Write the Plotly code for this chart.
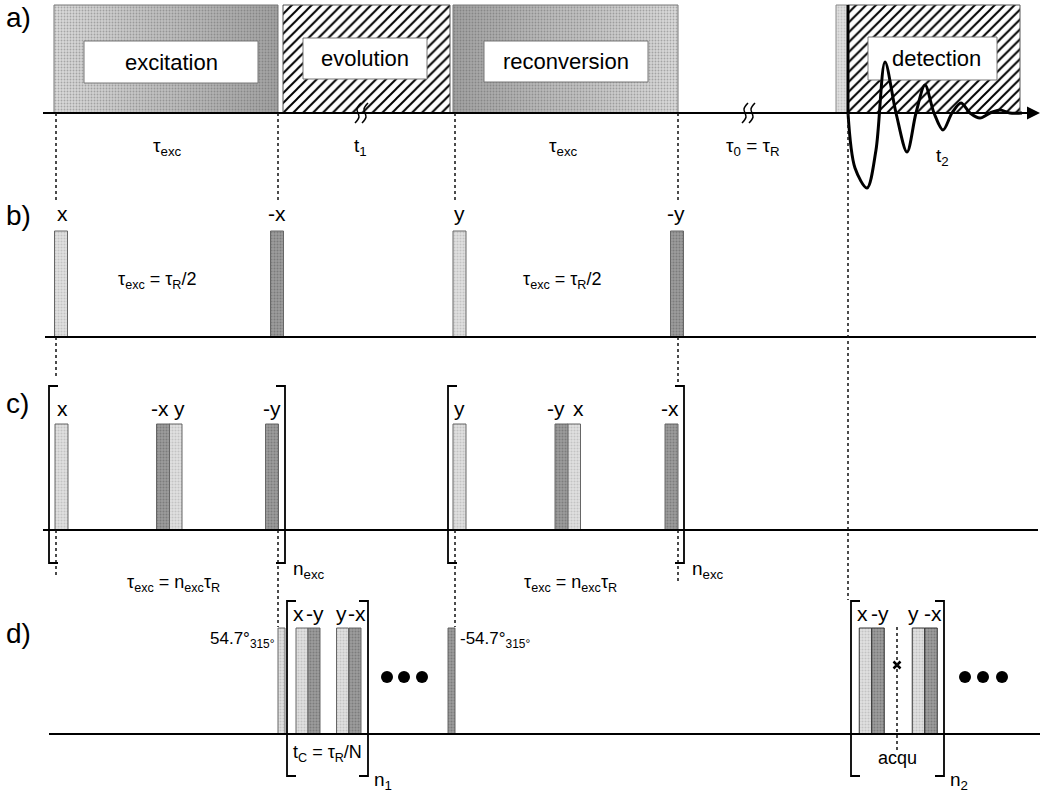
import plotly.graph_objects as go

W, H = 1044, 794

# ---------------- data (pixel-time units) ----------------
panel_tags = ["a)", "b)", "c)", "d)"]
panel_tag_y = [17, 215, 403, 633]
baseline_y = [113, 337, 530, 734]
baseline_x0 = [43, 45, 43, 49]
baseline_x1 = [1022, 1036, 1038, 1040]

block_names = ["excitation", "evolution", "reconversion", "detection"]
block_x0 = [54, 283, 453, 848]
block_x1 = [278, 450, 678, 1020]
block_fill = ["fade_in", "hatch", "fade_out", "hatch"]
box_x0 = [84, 303, 484, 868]
box_x1 = [258, 427, 648, 997]
box_y0 = [41, 38, 41, 37]
box_y1 = [83, 79, 82, 80]
block_top = 5
presat_x = [836, 848]

period_text = ["τ<sub>exc</sub>", "t<sub>1</sub>", "τ<sub>exc</sub>", "τ<sub>0</sub> = τ<sub>R</sub>", "t<sub>2</sub>"]
period_x = [167, 360, 563, 753, 942]
period_y = [147, 147, 147, 147, 157]

break_x = [362, 749]

# FID: initial edge, then extrema and baseline crossings
fid_start_x = [848, 848]
fid_start_y = [5, 113]
fid_x = [848, 855, 867, 876, 885, 896, 907, 916, 925, 934, 943, 952, 961, 970, 980, 990, 1000, 1010, 1022]
fid_y = [113, 168, 188, 150, 62, 113, 152, 113, 85, 113, 130, 113, 103, 113, 118, 113, 110, 113, 113]

# panel b
b_pos = [61, 277, 459.5, 677]
b_phase = ["x", "-x", "y", "-y"]
b_formula = "τ<sub>exc</sub> = τ<sub>R</sub>/2"
b_formula_x = [157, 562]
b_formula_y = 280

# panel c
c_pos = [61.5, 163, 175.5, 272, 459.5, 561.5, 574, 671.5]
c_phase = ["x", "-x", "y", "-y", "y", "-y", "x", "-x"]
c_bracket_x0 = [49, 448]
c_bracket_x1 = [285, 684]
c_bracket_y = [386, 563]
c_repeat = "n<sub>exc</sub>"
c_formula = "τ<sub>exc</sub> = n<sub>exc</sub>τ<sub>R</sub>"
c_formula_x = [173, 570]
c_formula_y = 583

# panel d
d_pos = [302, 314, 342.5, 355, 865.5, 878, 918.5, 931]
d_phase = ["x", "-y", "y", "-x", "x", "-y", "y", "-x"]
d_flip_pos = [281.5, 451.5]
d_flip_angle = ["54.7°", "-54.7°"]
d_flip_phase = "315°"
d_bracket_x0 = [287, 851]
d_bracket_x1 = [368, 944]
d_bracket_y = [601, 776]
d_repeat = ["n<sub>1</sub>", "n<sub>2</sub>"]
d_inner_text = ["t<sub>C</sub> = τ<sub>R</sub>/N", "acqu"]
d_inner_x = [327, 897]
d_inner_y = [753, 758]
d_dots_x = [387, 404, 422, 965, 983, 1002]
acq_x = 897

# dotted timing guides: (x, y_from, y_to)
guide_x = [56, 56, 56, 278, 278, 455, 455, 678, 678, 678, 848, 897]
guide_y0 = [113, 337, 530, 113, 530, 113, 530, 113, 337, 530, 113, 627]
guide_y1 = [200, 376, 576, 200, 627, 200, 627, 200, 386, 582, 600, 750]

# ---------------- styling ----------------
FONT = "Liberation Sans, Arial, sans-serif"
LIGHT = dict(color="#e0e0e0", fg="#a6a6a6")
DARK = dict(color="#9c9c9c", fg="#5c5c5c")
PULSE_H = 106
b_label_dx = [1, 0, 0, -1]
c_label_dx = [1, -3, 4, 0, 0, -6, 4, -2]
d_label_dx = [-4, 1, -1, 2, -3, 2, -5, 2]

fig = go.Figure()


def bar(xc, w, top, bottom, color, line_color="#555", line_w=1, pattern=None):
    m = dict(color=color, line=dict(color=line_color, width=line_w))
    if pattern:
        m["pattern"] = pattern
    return go.Bar(x=xc, y=[bottom - top] * len(xc), base=[top] * len(xc),
                  width=w, marker=m, hoverinfo="skip", showlegend=False)


# ---- panel a blocks ----
for name, x0, x1, kind in zip(block_names, block_x0, block_x1, block_fill):
    if kind.startswith("fade"):
        n = 60
        edges = [x0 + (x1 - x0) * i / n for i in range(n + 1)]
        z = [i / (n - 1) for i in range(n)]
        if kind == "fade_in":
            z = [1 - v for v in z]
        fig.add_trace(go.Heatmap(x=edges, y=[block_top, baseline_y[0]], z=[z], zmin=0, zmax=1,
                                 colorscale=[[0, "#a2a2a2"], [1, "#dadada"]],
                                 showscale=False, hoverinfo="skip"))
        fig.add_trace(bar([(x0 + x1) / 2], [x1 - x0], block_top, baseline_y[0], "rgba(0,0,0,0)",
                          line_color="#777", line_w=1,
                          pattern=dict(shape=".", size=3, solidity=0.3,
                                       fgcolor="rgba(70,70,70,0.35)", bgcolor="rgba(0,0,0,0)",
                                       fillmode="replace")))
    else:
        fig.add_trace(bar([(x0 + x1) / 2], [x1 - x0], block_top, baseline_y[0], "white",
                          line_color="#555", line_w=1,
                          pattern=dict(shape="/", size=7, solidity=0.28, fgcolor="black",
                                       bgcolor="white", fillmode="replace")))

# light strip before detection
fig.add_trace(bar([(presat_x[0] + presat_x[1]) / 2], [presat_x[1] - presat_x[0]], block_top,
                  baseline_y[0], LIGHT["color"], line_color="#888",
                  pattern=dict(shape=".", size=3, solidity=0.3, fgcolor=LIGHT["fg"],
                               fillmode="overlay")))

# white label boxes
for x0, x1, y0, y1 in zip(box_x0, box_x1, box_y0, box_y1):
    fig.add_trace(bar([(x0 + x1) / 2], [x1 - x0], y0, y1, "white", line_color="#777", line_w=1))


# ---- pulses ----
def add_pulses(pos, phases, base, width, line_color="#666"):
    for shade, neg in ((LIGHT, False), (DARK, True)):
        xs = [x for x, p in zip(pos, phases) if p.startswith("-") == neg]
        if not xs:
            continue
        fig.add_trace(bar(xs, [width] * len(xs), base - PULSE_H, base, shade["color"],
                          line_color=line_color, line_w=1,
                          pattern=dict(shape=".", size=3, solidity=0.35, fgcolor=shade["fg"],
                                       fillmode="overlay")))


add_pulses(b_pos, b_phase, baseline_y[1], 13)
add_pulses(c_pos, c_phase, baseline_y[2], 13)
add_pulses(d_pos[:4], d_phase[:4], baseline_y[3], 12)
add_pulses(d_pos[4:], d_phase[4:], baseline_y[3], 12.5, line_color="#333")
add_pulses(d_flip_pos, ["x", "-x"], baseline_y[3], 7)

# ---- FID ----
fig.add_trace(go.Scatter(x=fid_start_x, y=fid_start_y, mode="lines",
                         line=dict(color="black", width=3), hoverinfo="skip", showlegend=False))
fig.add_trace(go.Scatter(x=fid_x, y=fid_y, mode="lines",
                         line=dict(color="black", width=3, shape="spline", smoothing=0.9),
                         hoverinfo="skip", showlegend=False))

# ---- break marks ----
for bx in break_x:
    for off in (-4, 3):
        cx, cy = bx + off, baseline_y[0]
        fig.add_trace(go.Scatter(x=[cx + 3, cx - 1, cx + 1, cx - 3],
                                 y=[cy - 10, cy - 4, cy + 4, cy + 10],
                                 mode="lines", line=dict(color="black", width=1.5, shape="spline"),
                                 hoverinfo="skip", showlegend=False))

# acquisition marker
fig.add_trace(go.Scatter(x=[acq_x], y=[665], mode="markers",
                         marker=dict(symbol="x-thin", size=7, line=dict(color="black", width=2.5)),
                         hoverinfo="skip", showlegend=False))
# dots
fig.add_trace(go.Scatter(x=d_dots_x, y=[677] * len(d_dots_x), mode="markers",
                         marker=dict(color="black", size=12), hoverinfo="skip", showlegend=False))

shapes = []
for y, x0, x1 in zip(baseline_y, baseline_x0, baseline_x1):
    shapes.append(dict(type="line", x0=x0, x1=x1, y0=y, y1=y, line=dict(color="black", width=2)))
for x, y0, y1 in zip(guide_x, guide_y0, guide_y1):
    shapes.append(dict(type="line", x0=x, x1=x, y0=y0, y1=y1,
                       line=dict(color="#111", width=1.5, dash="dot")))


def brackets(x0s, x1s, ys, foot):
    for a, b in zip(x0s, x1s):
        shapes.append(dict(type="path", path=f"M {a+foot},{ys[0]} L {a},{ys[0]} L {a},{ys[1]} L {a+foot},{ys[1]}",
                           line=dict(color="black", width=1.8)))
        shapes.append(dict(type="path", path=f"M {b-foot},{ys[0]} L {b},{ys[0]} L {b},{ys[1]} L {b-foot},{ys[1]}",
                           line=dict(color="black", width=1.8)))


brackets(c_bracket_x0, c_bracket_x1, c_bracket_y, 9)
brackets(d_bracket_x0, d_bracket_x1, d_bracket_y, 9)

ann = []


def text(x, y, t, size, anchor="center"):
    ann.append(dict(x=x, y=y, text=t, showarrow=False, xanchor=anchor, yanchor="middle",
                    font=dict(family=FONT, size=size, color="black")))


for tag, y in zip(panel_tags, panel_tag_y):
    text(4, y, tag, 28, "left")
for name, x0, x1, y0, y1 in zip(block_names, box_x0, box_x1, box_y0, box_y1):
    text((x0 + x1) / 2 + (4 if name == "detection" else 0), (y0 + y1) / 2, name, 22)
for t, x, y in zip(period_text, period_x, period_y):
    text(x, y, t, 19)


def phase_labels(pos, phases, dxs, y):
    for x, p, dx in zip(pos, phases, dxs):
        text(x + dx, y, p, 21)


phase_labels(b_pos, b_phase, b_label_dx, 213)
phase_labels(c_pos, c_phase, c_label_dx, 408)
phase_labels(d_pos, d_phase, d_label_dx, 613)

for x in b_formula_x:
    text(x, b_formula_y, b_formula, 18)
for x in c_formula_x:
    text(x, c_formula_y, c_formula, 18)
for x in c_bracket_x1:
    text(x + 6, 570, c_repeat, 19, "left")
for x, r in zip(d_bracket_x1, d_repeat):
    text(x + 4, 781, r, 19, "left")
for t, x, y in zip(d_inner_text, d_inner_x, d_inner_y):
    text(x, y, t, 18)
text(d_flip_pos[0] - 5, 640, f"{d_flip_angle[0]}<sub>{d_flip_phase}</sub>", 17, "right")
text(d_flip_pos[1] + 6, 640, f"{d_flip_angle[1]}<sub>{d_flip_phase}</sub>", 17, "left")

# time axis arrow (panel a)
ann.append(dict(x=1040, y=baseline_y[0], ax=1012, ay=baseline_y[0], axref="x", ayref="y",
                xref="x", yref="y", showarrow=True, arrowhead=2, arrowsize=1.3, arrowwidth=2,
                arrowcolor="black", text=""))

fig.update_layout(
    width=W, height=H, margin=dict(l=0, r=0, t=0, b=0),
    paper_bgcolor="white", plot_bgcolor="white",
    barmode="overlay", showlegend=False, hovermode=False,
    xaxis=dict(range=[0, W], visible=False, fixedrange=True),
    yaxis=dict(range=[H, 0], visible=False, fixedrange=True),
    shapes=shapes, annotations=ann,
)

fig.write_html("out.html", config={"displayModeBar": False, "staticPlot": True},
               post_script="document.body.style.margin='0';")
